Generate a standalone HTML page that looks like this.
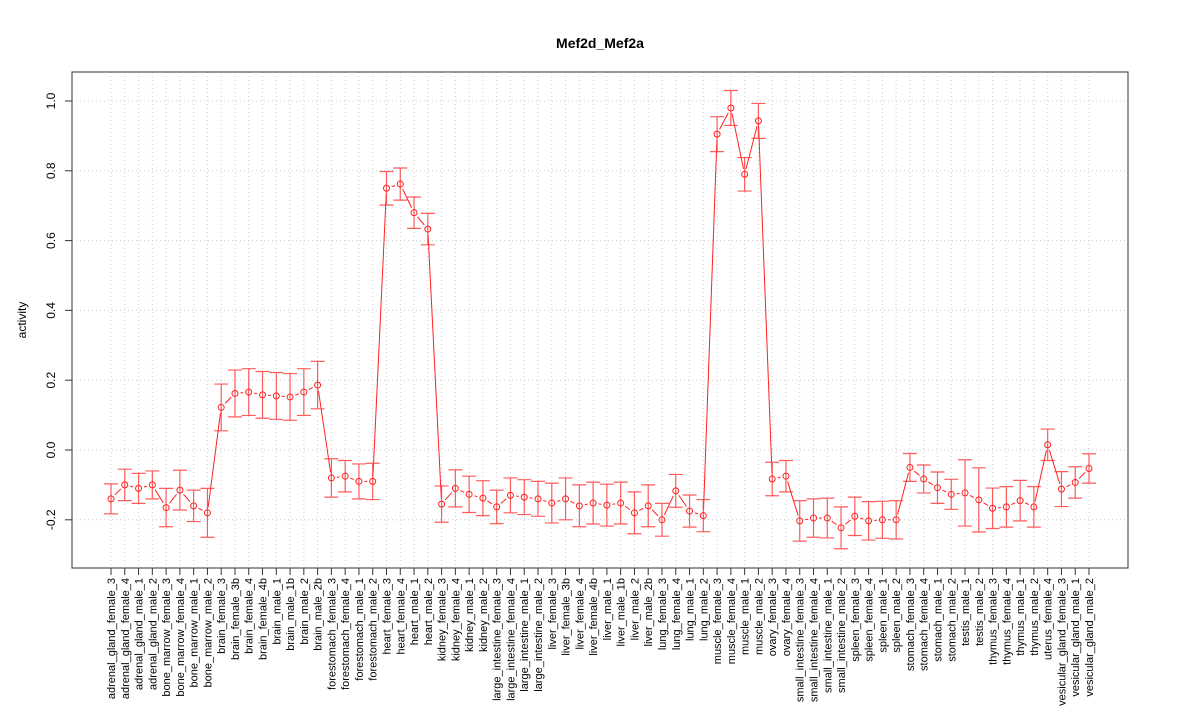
<!DOCTYPE html>
<html><head><meta charset="utf-8"><style>
body{margin:0;background:#fff;}
svg text{font-family:"Liberation Sans",sans-serif;}
</style></head><body>
<svg id="chart" width="1200" height="720" xmlns="http://www.w3.org/2000/svg">
<rect width="1200" height="720" fill="#fff"/>
<text x="600" y="48" text-anchor="middle" font-size="14" font-weight="bold">Mef2d_Mef2a</text>
<text transform="translate(26,320) rotate(-90)" text-anchor="middle" font-size="12">activity</text>
<g id="grid"></g><g id="marks"></g><g id="axes"></g>
<rect x="72" y="72" width="1056" height="496" fill="none" stroke="#333" stroke-width="1"/>
</svg>
<script>
const categories=["adrenal_gland_female_3","adrenal_gland_female_4","adrenal_gland_male_1","adrenal_gland_male_2","bone_marrow_female_3","bone_marrow_female_4","bone_marrow_male_1","bone_marrow_male_2","brain_female_3","brain_female_3b","brain_female_4","brain_female_4b","brain_male_1","brain_male_1b","brain_male_2","brain_male_2b","forestomach_female_3","forestomach_female_4","forestomach_male_1","forestomach_male_2","heart_female_3","heart_female_4","heart_male_1","heart_male_2","kidney_female_3","kidney_female_4","kidney_male_1","kidney_male_2","large_intestine_female_3","large_intestine_female_4","large_intestine_male_1","large_intestine_male_2","liver_female_3","liver_female_3b","liver_female_4","liver_female_4b","liver_male_1","liver_male_1b","liver_male_2","liver_male_2b","lung_female_3","lung_female_4","lung_male_1","lung_male_2","muscle_female_3","muscle_female_4","muscle_male_1","muscle_male_2","ovary_female_3","ovary_female_4","small_intestine_female_3","small_intestine_female_4","small_intestine_male_1","small_intestine_male_2","spleen_female_3","spleen_female_4","spleen_male_1","spleen_male_2","stomach_female_3","stomach_female_4","stomach_male_1","stomach_male_2","testis_male_1","testis_male_2","thymus_female_3","thymus_female_4","thymus_male_1","thymus_male_2","uterus_female_4","vesicular_gland_female_3","vesicular_gland_male_1","vesicular_gland_male_2"];
const values=[-0.14,-0.10,-0.11,-0.10,-0.165,-0.115,-0.16,-0.18,0.122,0.162,0.166,0.158,0.155,0.152,0.166,0.186,-0.08,-0.075,-0.09,-0.09,0.75,0.762,0.68,0.633,-0.155,-0.11,-0.127,-0.138,-0.163,-0.13,-0.135,-0.14,-0.152,-0.14,-0.16,-0.152,-0.158,-0.152,-0.18,-0.16,-0.2,-0.117,-0.175,-0.188,0.905,0.98,0.79,0.943,-0.083,-0.075,-0.203,-0.195,-0.195,-0.223,-0.19,-0.203,-0.2,-0.2,-0.05,-0.083,-0.108,-0.127,-0.123,-0.143,-0.167,-0.163,-0.145,-0.163,0.015,-0.112,-0.093,-0.053];
const errors=[0.043,0.045,0.043,0.04,0.055,0.057,0.045,0.07,0.067,0.067,0.067,0.067,0.067,0.067,0.067,0.068,0.055,0.045,0.05,0.052,0.048,0.046,0.045,0.045,0.052,0.053,0.052,0.05,0.048,0.05,0.05,0.05,0.057,0.06,0.06,0.06,0.06,0.06,0.06,0.06,0.047,0.047,0.046,0.046,0.05,0.05,0.048,0.05,0.048,0.045,0.058,0.055,0.057,0.06,0.055,0.055,0.053,0.055,0.04,0.04,0.045,0.043,0.095,0.092,0.058,0.058,0.058,0.058,0.045,0.05,0.045,0.042];
const yTicks=[-0.2,0,0.2,0.4,0.6,0.8,1.0];
const yTickLabels=["-0.2","0.0","0.2","0.4","0.6","0.8","1.0"];

const NS="http://www.w3.org/2000/svg";
const x0=111,dx=(1089-111)/(categories.length-1);
function xs(i){return x0+i*dx;}
function ys(v){return 450-v*349;}
function mk(parent,tag,attrs){const e=document.createElementNS(NS,tag);for(const k in attrs)e.setAttribute(k,attrs[k]);document.getElementById(parent).appendChild(e);return e;}

categories.forEach((c,i)=>{
  const g=mk('grid','line',{x1:xs(i),x2:xs(i),y1:72,y2:568,stroke:'#ccc','stroke-dasharray':'1,3'});
  
  
  const t=mk('axes','line',{x1:xs(i),x2:xs(i),y1:568,y2:575,stroke:'#333'});
  
  
  const l=mk('axes','text',{transform:`translate(${xs(i)+4},578) rotate(-90)`,'text-anchor':'end','font-size':'11'});
  l.textContent=c;
  
  
});
yTicks.forEach((v,i)=>{
  const g=mk('grid','line',{x1:72,x2:1128,y1:ys(v),y2:ys(v),stroke:'#ccc','stroke-dasharray':'1,3'});
  
  
  const t=mk('axes','line',{x1:65,x2:72,y1:ys(v),y2:ys(v),stroke:'#333'});
  
  
  const l=mk('axes','text',{transform:`translate(55,${ys(v)}) rotate(-90)`,'text-anchor':'middle','font-size':'12'});
  l.textContent=yTickLabels[i];
  
  
});
const red='#ff2020';
for(let i=0;i<values.length-1;i++){
  const xa=xs(i),ya=ys(values[i]),xb=xs(i+1),yb=ys(values[i+1]);
  const d=Math.hypot(xb-xa,yb-ya);const g=5.5;
  if(d>2*g){
    const ux=(xb-xa)/d,uy=(yb-ya)/d;
    const s=mk('marks','line',{x1:xa+ux*g,y1:ya+uy*g,x2:xb-ux*g,y2:yb-uy*g,stroke:red,'stroke-width':1});
    
    
  }
}
values.forEach((v,i)=>{
  const x=xs(i),hi=ys(v+errors[i]),lo=ys(v-errors[i]);
  const e=mk('marks','path',{d:`M${x},${hi}V${lo}M${x-7},${hi}H${x+7}M${x-7},${lo}H${x+7}`,stroke:'#ff4040','stroke-width':1.2,fill:'none','stroke-opacity':0.85});
  
  
  const p=mk('marks','circle',{cx:x,cy:ys(v),r:3,fill:'none',stroke:red,'stroke-width':1});
  
  
});
</script>
</body></html>
